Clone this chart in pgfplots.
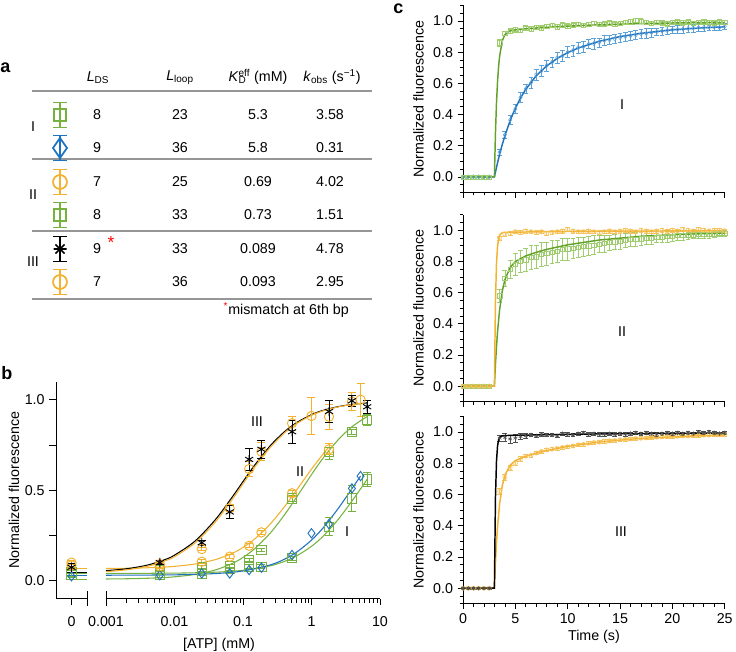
\documentclass[border=0pt]{standalone}
\usepackage{pgfplots}
\pgfplotsset{compat=1.18}
\usepackage{fontspec}
\setmainfont{Liberation Sans}

\definecolor{grn}{RGB}{118,178,64}
\definecolor{grnL}{RGB}{160,205,112}
\definecolor{grnD}{RGB}{98,162,42}
\definecolor{blu}{RGB}{30,114,190}
\definecolor{bluL}{RGB}{92,162,216}
\definecolor{org}{RGB}{242,178,48}
\definecolor{orgL}{RGB}{245,196,96}
\definecolor{gry}{RGB}{80,80,80}
\definecolor{rule}{RGB}{150,150,150}

\newcommand{\fs}{\fontsize{10.7}{12.5}\selectfont}

\pgfplotsset{
  igor/.style={scale only axis, clip=false, axis line style={-, line width=0.7pt},
    tick align=outside, major tick style={line width=0.6pt, black}, minor tick style={line width=0.5pt, black},
    tick label style={font=\fs}, label style={font=\fs},
    /pgf/number format/assume math mode=true},
  cax/.style={igor, axis lines*=left, width=196.3pt, height=140.4pt,
    xmin=0, xmax=25, ymin=-0.1, ymax=1.1,
    xtick={0,5,10,15,20,25}, minor xtick={0,1,...,25},
    ytick={0,0.2,0.4,0.6,0.8,1},
    minor ytick={-0.1,-0.05,0,0.05,0.1,0.15,0.2,0.25,0.3,0.35,0.4,0.45,0.5,0.55,0.6,0.65,0.7,0.75,0.8,0.85,0.9,0.95,1,1.05,1.1},
    major tick length=4pt, minor tick length=2.2pt,
    yticklabel style={/pgf/number format/fixed, /pgf/number format/fixed zerofill, /pgf/number format/precision=1},
    ylabel={Normalized fluorescence},
    ylabel style={at={(axis description cs:-0.17,0.5)}, anchor=center}},
  cdat/.style={only marks, mark size=1.6pt, mark options={solid, line width=0.4pt},
    error bars/y dir=both, error bars/y explicit,
    error bars/error bar style={line width=0.4pt},
    error bars/error mark options={rotate=90, mark size=1.8pt, line width=0.4pt}},
  cfit/.style={no marks, line width=1.1pt},
  bax/.style={igor, height=162.9pt, ymin=-0.1, ymax=1.1,
    major tick length=5pt, minor tick length=3pt,
    xticklabel style={yshift=-5pt}},
  bmk/.style={only marks, mark size=3.5pt, mark options={solid, line width=0.7pt}},
  bdat/.style={bmk,
    error bars/y dir=both, error bars/y explicit,
    error bars/error bar style={line width=0.7pt},
    error bars/error mark options={rotate=90, mark size=3pt, line width=0.7pt}},
  bfit/.style={no marks, line width=0.8pt, smooth},
}

\begin{document}
\begin{tikzpicture}
\path[use as bounding box] (0,0) rectangle (552pt,-489pt);

% ---------------- panel b, x = 0 part ----------------
\begin{axis}[bax, axis lines*=left, at={(42pt,-449.1pt)}, anchor=south west,
  width=23.25pt, xmin=-0.5, xmax=0.5,
  xtick={0}, xticklabels={0},
  extra x ticks={0.5}, extra x tick labels={},
  extra x tick style={tick align=center, major tick length=11pt},
  ytick={0,0.25,0.5,0.75,1}, yticklabels={0.0,,0.5,,1.0},
  ylabel={Normalized fluorescence},
  ylabel style={at={(axis description cs:-1.35,0.5)}, anchor=center}]
\addplot[bfit, org] table[row sep=\\]{x y\\ -0.15 0.066\\ 0.5 0.066\\};
\addplot[bfit, black] table[row sep=\\]{x y\\ -0.15 0.045\\ 0.5 0.045\\};
\addplot[bfit, org] table[row sep=\\]{x y\\ -0.15 0.04\\ 0.5 0.04\\};
\addplot[bfit, grn] table[row sep=\\]{x y\\ -0.15 0.04\\ 0.5 0.04\\};
\addplot[bfit, blu] table[row sep=\\]{x y\\ -0.15 0.03\\ 0.5 0.03\\};
\addplot[bfit, grn] table[row sep=\\]{x y\\ -0.15 0.008\\ 0.5 0.008\\};
\addplot[bdat, grn, mark=square] table[x=x,y=y,y error=e,row sep=\\]{x y e\\ 0 0.05 0.01\\};
\addplot[bdat, grn, mark=square] table[x=x,y=y,y error=e,row sep=\\]{x y e\\ 0 0.03 0.01\\};
\addplot[bmk, blu, mark=diamond] table[x=x,y=y,row sep=\\]{x y\\ 0 0.025\\};
\addplot[bdat, org, mark=o] table[x=x,y=y,y error=e,row sep=\\]{x y e\\ 0 0.085 0.01\\};
\addplot[bdat, org, mark=o] table[x=x,y=y,y error=e,row sep=\\]{x y e\\ 0 0.10 0.01\\};
\addplot[bdat, black, mark=asterisk] table[x=x,y=y,y error=e,row sep=\\]{x y e\\ 0 0.074 0.02\\};
\end{axis}

% ---------------- panel b, log part ----------------
\begin{axis}[bax, xmode=log, axis x line*=bottom, hide y axis,
  at={(79.5pt,-449.1pt)}, anchor=south west, width=205.5pt,
  xmin=0.001, xmax=10,
  xtick={0.001,0.01,0.1,1,10}, xticklabels={0.001,0.01,0.1,1,10},
  minor xtick={0.002,0.003,0.004,0.005,0.006,0.007,0.008,0.009,0.02,0.03,0.04,0.05,0.06,0.07,0.08,0.09,0.2,0.3,0.4,0.5,0.6,0.7,0.8,0.9,2,3,4,5,6,7,8,9},
  extra x ticks={0.001}, extra x tick labels={},
  extra x tick style={tick align=center, major tick length=11pt}]
% fits
\addplot[bfit, grn] table[row sep=\\]{x y\\ 0.001 0.0094\\ 0.002 0.0107\\ 0.004 0.0134\\ 0.007 0.0175\\ 0.01 0.0215\\ 0.02 0.0347\\ 0.04 0.0599\\ 0.07 0.0955\\ 0.1 0.1285\\ 0.15 0.1785\\ 0.25 0.2631\\ 0.4 0.3620\\ 0.6 0.4591\\ 1 0.5860\\ 1.5 0.6806\\ 2.5 0.7820\\ 4 0.8537\\ 6.5 0.9070\\};
\addplot[bfit, grn] table[row sep=\\]{x y\\ 0.001 0.0402\\ 0.01 0.0418\\ 0.04 0.0471\\ 0.1 0.0575\\ 0.25 0.0825\\ 0.4 0.1062\\ 0.6 0.1360\\ 1 0.1898\\ 1.5 0.2482\\ 2.5 0.3426\\ 4 0.4460\\ 6.5 0.5600\\};
\addplot[bfit, blu] table[row sep=\\]{x y\\ 0.001 0.0302\\ 0.01 0.0324\\ 0.04 0.0396\\ 0.1 0.0537\\ 0.25 0.0871\\ 0.4 0.1182\\ 0.6 0.1565\\ 1 0.2240\\ 1.5 0.2945\\ 2.5 0.4031\\ 4 0.5150\\ 5.2 0.5782\\};
\addplot[bfit, org] table[row sep=\\]{x y\\ 0.001 0.0673\\ 0.002 0.0687\\ 0.004 0.0714\\ 0.007 0.0753\\ 0.01 0.0793\\ 0.02 0.0922\\ 0.04 0.1170\\ 0.07 0.1517\\ 0.1 0.1837\\ 0.15 0.2321\\ 0.25 0.3134\\ 0.4 0.4073\\ 0.6 0.4986\\ 1 0.6163\\ 1.5 0.7030\\ 1.8 0.7383\\};
\addplot[bfit, black] table[row sep=\\]{x y\\ 0.001 0.0555\\ 0.002 0.0659\\ 0.004 0.0859\\ 0.007 0.1143\\ 0.01 0.1410\\ 0.02 0.2193\\ 0.04 0.3396\\ 0.07 0.4633\\ 0.1 0.5476\\ 0.15 0.6412\\ 0.25 0.7456\\ 0.4 0.8221\\ 0.6 0.8723\\ 1 0.9174\\ 1.5 0.9418\\ 2.5 0.9623\\ 4 0.9743\\ 6.5 0.9822\\};
\addplot[bfit, org] table[row sep=\\]{x y\\ 0.001 0.0502\\ 0.002 0.0601\\ 0.004 0.0794\\ 0.007 0.1069\\ 0.01 0.1327\\ 0.02 0.2090\\ 0.04 0.3272\\ 0.07 0.4501\\ 0.1 0.5348\\ 0.15 0.6295\\ 0.25 0.7361\\ 0.4 0.8149\\ 0.6 0.8668\\ 1 0.9137\\ 1.5 0.9392\\ 2.5 0.9607\\ 4 0.9733\\ 5.2 0.9782\\};
% data
\addplot[bdat, grn, mark=square] table[x=x,y=y,y error=e,row sep=\\]{x y e\\ 0.0061 0.06 0.01\\ 0.025 0.074 0.01\\ 0.064 0.08 0.01\\ 0.123 0.114 0.01\\ 0.186 0.17 0.01\\ 0.52 0.455 0.015\\ 1.8 0.713 0.045\\ 3.89 0.823 0.015\\ 6.5 0.888 0.03\\};
\addplot[bdat, grn, mark=square] table[x=x,y=y,y error=e,row sep=\\]{x y e\\ 0.0061 0.03 0.01\\ 0.025 0.04 0.01\\ 0.064 0.065 0.01\\ 0.123 0.077 0.01\\ 0.186 0.077 0.01\\ 0.52 0.124 0.01\\ 1.8 0.298 0.05\\ 3.89 0.455 0.07\\ 6.5 0.56 0.04\\};
\addplot[bmk, blu, mark=diamond] table[x=x,y=y,row sep=\\]{x y\\ 0.0061 0.03\\ 0.025 0.04\\ 0.064 0.04\\ 0.123 0.059\\ 0.186 0.072\\ 0.52 0.142\\ 1.0 0.262\\ 1.8 0.313\\ 3.89 0.51\\ 5.2 0.578\\};
\addplot[bdat, org, mark=o] table[x=x,y=y,y error=e,row sep=\\]{x y e\\ 0.0061 0.08 0.01\\ 0.025 0.105 0.01\\ 0.064 0.133 0.01\\ 0.123 0.193 0.01\\ 0.186 0.267 0.01\\ 0.52 0.483 0.015\\ 1.8 0.726 0.03\\};
\addplot[bdat, org, mark=o] table[x=x,y=y,y error=e,row sep=\\]{x y e\\ 0.0061 0.092 0.01\\ 0.025 0.175 0.01\\ 0.064 0.40 0.02\\ 0.123 0.617 0.04\\ 0.186 0.713 0.05\\ 0.52 0.87 0.04\\ 1.0 0.91 0.10\\ 1.8 0.906 0.07\\ 3.89 0.989 0.05\\ 5.2 1.0 0.09\\};
\addplot[bdat, black, mark=asterisk] table[x=x,y=y,y error=e,row sep=\\]{x y e\\ 0.0061 0.10 0.01\\ 0.025 0.21 0.015\\ 0.064 0.38 0.035\\ 0.123 0.67 0.06\\ 0.186 0.726 0.05\\ 0.52 0.823 0.065\\ 1.8 0.935 0.06\\ 3.89 0.994 0.03\\ 6.5 0.961 0.035\\};
\end{axis}

% ---------------- panel c, I ----------------
\begin{axis}[cax, at={(347.25pt,-144.4pt)}, anchor=south west, xticklabels={}]
\addplot[cdat, bluL, mark=diamond] table[x=t,y=y,y error=e,row sep=\\]{t y e\\
0 0 0.005\\ 0.5 0 0.005\\ 1 0 0.005\\ 1.5 0 0.005\\ 2 0 0.005\\ 2.5 0 0.005\\
3.5 0.16 0.02\\ 4 0.27 0.025\\ 4.5 0.365 0.03\\ 5 0.435 0.03\\ 5.5 0.51 0.03\\ 6 0.565 0.03\\ 6.5 0.605 0.035\\ 7 0.655 0.035\\
7.5 0.68 0.035\\ 8 0.715 0.035\\ 8.5 0.735 0.035\\ 9 0.765 0.035\\ 9.5 0.775 0.035\\ 10 0.80 0.035\\ 10.5 0.81 0.035\\ 11 0.83 0.035\\
11.5 0.835 0.035\\ 12 0.852 0.03\\ 12.5 0.855 0.035\\ 13 0.862 0.03\\ 13.5 0.875 0.03\\ 14 0.878 0.03\\ 14.5 0.885 0.03\\ 15 0.893 0.03\\
15.5 0.90 0.03\\ 16 0.905 0.03\\ 16.5 0.91 0.03\\ 17 0.917 0.03\\ 17.5 0.92 0.03\\ 18 0.925 0.03\\ 18.5 0.93 0.025\\ 19 0.935 0.025\\
19.5 0.938 0.025\\ 20 0.943 0.025\\ 20.5 0.946 0.025\\ 21 0.948 0.025\\ 21.5 0.952 0.025\\ 22 0.955 0.025\\ 22.5 0.957 0.025\\ 23 0.958 0.025\\
23.5 0.96 0.02\\ 24 0.962 0.02\\ 24.5 0.958 0.02\\ 25 0.965 0.02\\};
\addplot[cdat, grnL, mark=square] table[x=t,y=y,y error=e,row sep=\\]{t y e\\
0 0 0.005\\ 0.5 0 0.005\\ 1 0 0.005\\ 1.5 0 0.005\\ 2 0 0.005\\ 2.5 0 0.005\\
3.5 0.86 0.02\\ 4 0.92 0.015\\ 4.5 0.935 0.015\\ 5 0.945 0.015\\ 5.5 0.94 0.015\\ 6 0.955 0.015\\ 6.5 0.95 0.015\\ 7 0.96 0.012\\
7.5 0.955 0.015\\ 8 0.965 0.015\\ 8.5 0.97 0.012\\ 9 0.962 0.015\\ 9.5 0.975 0.012\\ 10 0.968 0.015\\ 10.5 0.975 0.012\\ 11 0.98 0.012\\
11.5 0.972 0.015\\ 12 0.978 0.012\\ 12.5 0.985 0.012\\ 13 0.978 0.015\\ 13.5 0.982 0.012\\ 14 0.988 0.012\\ 14.5 0.98 0.015\\ 15 0.985 0.012\\
15.5 0.99 0.012\\ 16 0.995 0.015\\ 16.5 1.005 0.015\\ 17 1.0 0.015\\ 17.5 0.99 0.012\\ 18 0.985 0.012\\ 18.5 0.992 0.012\\ 19 0.988 0.012\\
19.5 0.983 0.015\\ 20 0.99 0.012\\ 20.5 0.995 0.012\\ 21 0.99 0.015\\ 21.5 0.995 0.012\\ 22 0.985 0.012\\ 22.5 0.99 0.012\\ 23 0.995 0.012\\
23.5 0.99 0.015\\ 24 0.988 0.012\\ 24.5 0.995 0.012\\ 25 0.99 0.012\\};
\addplot[cfit, blu] table[row sep=\\]{t y\\ 0 0\\ 3 0\\ 3.25 0.0765\\ 3.5 0.146\\ 3.75 0.2075\\ 4 0.2636\\ 4.5 0.361\\ 5 0.4405\\ 5.5 0.5068\\ 6 0.5623\\ 7 0.6489\\ 8 0.7122\\ 9 0.7599\\ 10 0.797\\ 11 0.8262\\ 13 0.8695\\ 15 0.900\\ 17 0.9207\\ 20 0.943\\ 23 0.9561\\ 25 0.962\\};
\addplot[cfit, grnD] table[row sep=\\]{t y\\ 0 0\\ 3 0\\ 3.1 0.281\\ 3.2 0.475\\ 3.3 0.612\\ 3.4 0.708\\ 3.5 0.775\\ 3.75 0.873\\ 4 0.911\\ 4.5 0.937\\ 5 0.943\\ 6 0.950\\ 8 0.959\\ 10 0.967\\ 13 0.975\\ 17 0.983\\ 21 0.988\\ 25 0.990\\};
\end{axis}

% ---------------- panel c, II ----------------
\begin{axis}[cax, at={(347.25pt,-301.3pt)}, anchor=south west, xticklabels={}]
\addplot[cdat, grnL, mark=square] table[x=t,y=y,y error=e,row sep=\\]{t y e\\
0 0 0.005\\ 0.5 0 0.005\\ 1 0 0.005\\ 1.5 0 0.005\\ 2 0 0.005\\ 2.5 0 0.005\\
3.5 0.58 0.04\\ 4 0.69 0.05\\ 4.5 0.75 0.06\\ 5 0.78 0.07\\ 5.5 0.80 0.07\\ 6 0.81 0.075\\ 6.5 0.825 0.075\\ 7 0.83 0.075\\
7.5 0.845 0.075\\ 8 0.85 0.075\\ 8.5 0.86 0.075\\ 9 0.865 0.07\\ 9.5 0.875 0.07\\ 10 0.88 0.07\\ 10.5 0.885 0.065\\ 11 0.89 0.065\\
11.5 0.895 0.06\\ 12 0.90 0.06\\ 12.5 0.905 0.06\\ 13 0.91 0.055\\ 13.5 0.915 0.055\\ 14 0.92 0.05\\ 14.5 0.925 0.05\\ 15 0.93 0.05\\
15.5 0.935 0.045\\ 16 0.94 0.045\\ 16.5 0.94 0.045\\ 17 0.945 0.04\\ 17.5 0.95 0.04\\ 18 0.95 0.04\\ 18.5 0.955 0.035\\ 19 0.955 0.035\\
19.5 0.96 0.035\\ 20 0.96 0.03\\ 20.5 0.965 0.03\\ 21 0.965 0.03\\ 21.5 0.97 0.03\\ 22 0.97 0.025\\ 22.5 0.972 0.025\\ 23 0.975 0.025\\
23.5 0.975 0.025\\ 24 0.977 0.025\\ 24.5 0.978 0.02\\ 25 0.98 0.02\\};
\addplot[cdat, orgL, mark=o] table[x=t,y=y,y error=e,row sep=\\]{t y e\\
0 0 0.005\\ 0.5 0 0.005\\ 1 0 0.005\\ 1.5 0 0.005\\ 2 0 0.005\\ 2.5 0 0.005\\
3.5 0.95 0.012\\ 4 0.975 0.012\\ 4.5 0.98 0.012\\ 5 0.99 0.012\\ 5.5 0.985 0.012\\ 6 0.995 0.012\\ 6.5 0.99 0.012\\ 7 0.985 0.012\\
7.5 0.99 0.012\\ 8 0.98 0.012\\ 8.5 0.985 0.012\\ 9 0.99 0.012\\ 9.5 0.995 0.012\\ 10 1.005 0.012\\ 10.5 0.995 0.012\\ 11 0.99 0.012\\
11.5 0.99 0.012\\ 12 0.995 0.012\\ 12.5 0.99 0.012\\ 13 0.985 0.012\\ 13.5 0.99 0.012\\ 14 0.995 0.012\\ 14.5 0.99 0.012\\ 15 0.995 0.012\\
15.5 1.0 0.012\\ 16 0.995 0.012\\ 16.5 0.99 0.012\\ 17 1.0 0.012\\ 17.5 0.995 0.012\\ 18 0.99 0.012\\ 18.5 0.995 0.012\\ 19 1.0 0.012\\
19.5 0.995 0.012\\ 20 1.0 0.012\\ 20.5 0.995 0.012\\ 21 1.005 0.012\\ 21.5 1.0 0.012\\ 22 0.995 0.012\\ 22.5 1.005 0.012\\ 23 1.0 0.012\\
23.5 0.995 0.012\\ 24 1.0 0.012\\ 24.5 1.0 0.012\\ 25 0.995 0.012\\};
\addplot[cfit, grnD] table[row sep=\\]{t y\\ 0 0\\ 3 0\\ 3.1 0.1396\\ 3.2 0.2544\\ 3.3 0.349\\ 3.5 0.4915\\ 3.75 0.6082\\ 4 0.6819\\ 4.5 0.7611\\ 5 0.7985\\ 6 0.8351\\ 7 0.858\\ 8 0.8766\\ 10 0.906\\ 13 0.9365\\ 17 0.9606\\ 21 0.9739\\ 25 0.9811\\};
\addplot[cfit, org] table[row sep=\\]{t y\\ 0 0\\ 3 0\\ 3.1 0.542\\ 3.2 0.786\\ 3.3 0.896\\ 3.4 0.945\\ 3.5 0.968\\ 3.75 0.984\\ 4 0.986\\ 5 0.987\\ 8 0.990\\ 13 0.993\\ 25 0.996\\};
\end{axis}

% ---------------- panel c, III ----------------
\begin{axis}[cax, at={(347.25pt,-452.85pt)}, anchor=south west, height=140.6pt]
\addplot[cdat, orgL, mark=o] table[x=t,y=y,y error=e,row sep=\\]{t y e\\
0 0 0.005\\ 0.5 0 0.005\\ 1 0 0.005\\ 1.5 0 0.005\\ 2 0 0.005\\ 2.5 0 0.005\\
3.5 0.62 0.02\\ 4 0.71 0.02\\ 4.5 0.77 0.015\\ 5 0.80 0.015\\ 5.5 0.83 0.015\\ 6 0.845 0.01\\ 6.5 0.85 0.01\\ 7 0.865 0.01\\
7.5 0.875 0.01\\ 8 0.885 0.01\\ 8.5 0.89 0.01\\ 9 0.895 0.01\\ 9.5 0.90 0.01\\ 10 0.905 0.01\\ 10.5 0.91 0.01\\ 11 0.918 0.01\\
11.5 0.92 0.01\\ 12 0.928 0.01\\ 12.5 0.932 0.01\\ 13 0.935 0.01\\ 13.5 0.94 0.01\\ 14 0.943 0.01\\ 14.5 0.945 0.01\\ 15 0.95 0.01\\
15.5 0.952 0.01\\ 16 0.955 0.01\\ 16.5 0.958 0.01\\ 17 0.96 0.01\\ 17.5 0.962 0.01\\ 18 0.965 0.01\\ 18.5 0.967 0.01\\ 19 0.968 0.01\\
19.5 0.97 0.01\\ 20 0.972 0.01\\ 20.5 0.973 0.01\\ 21 0.975 0.01\\ 21.5 0.976 0.01\\ 22 0.977 0.01\\ 22.5 0.978 0.01\\ 23 0.98 0.01\\
23.5 0.98 0.01\\ 24 0.982 0.01\\ 24.5 0.983 0.01\\ 25 0.985 0.01\\};
\addplot[cdat, gry, mark=asterisk] table[x=t,y=y,y error=e,row sep=\\]{t y e\\
0 0 0.005\\ 0.5 0 0.005\\ 1 0 0.005\\ 1.5 0 0.005\\ 2 0 0.005\\ 2.5 0 0.005\\
3.5 0.96 0.02\\ 4 0.965 0.025\\ 4.5 0.955 0.025\\ 5 0.96 0.025\\ 5.5 0.97 0.02\\ 6 0.975 0.015\\ 6.5 0.98 0.01\\ 7 0.975 0.01\\
7.5 0.985 0.01\\ 8 0.98 0.01\\ 8.5 0.98 0.01\\ 9 0.975 0.01\\ 9.5 0.99 0.01\\ 10 0.985 0.01\\ 10.5 0.98 0.01\\ 11 0.99 0.01\\
11.5 0.995 0.01\\ 12 0.985 0.01\\ 12.5 0.99 0.01\\ 13 0.985 0.01\\ 13.5 0.985 0.01\\ 14 0.99 0.01\\ 14.5 0.985 0.01\\ 15 0.99 0.01\\
15.5 0.985 0.01\\ 16 0.99 0.01\\ 16.5 0.995 0.01\\ 17 0.99 0.01\\ 17.5 0.995 0.01\\ 18 0.99 0.01\\ 18.5 0.985 0.01\\ 19 0.99 0.01\\
19.5 0.995 0.01\\ 20 0.99 0.01\\ 20.5 0.995 0.01\\ 21 0.99 0.01\\ 21.5 0.995 0.01\\ 22 0.99 0.01\\ 22.5 1.0 0.01\\ 23 0.995 0.01\\
23.5 1.0 0.01\\ 24 0.995 0.01\\ 24.5 0.99 0.01\\ 25 0.995 0.01\\};
\addplot[cfit, org] table[row sep=\\]{t y\\ 0 0\\ 3 0\\ 3.1 0.161\\ 3.2 0.290\\ 3.3 0.393\\ 3.5 0.541\\ 3.75 0.655\\ 4 0.7215\\ 4.5 0.787\\ 5 0.816\\ 6 0.845\\ 7 0.864\\ 8 0.881\\ 10 0.907\\ 13 0.936\\ 17 0.959\\ 21 0.972\\ 25 0.980\\};
\addplot[cfit, black] table[row sep=\\]{t y\\ 0 0\\ 3 0\\ 3.1 0.5786\\ 3.2 0.814\\ 3.3 0.910\\ 3.4 0.949\\ 3.5 0.965\\ 3.75 0.975\\ 4 0.977\\ 6 0.980\\ 11 0.986\\ 18 0.9905\\ 25 0.993\\};
\end{axis}

% ---------------- table (panel a) and labels, pixel coordinates ----------------
\begin{scope}[x=0.75pt, y=-0.75pt, font=\fs]
\node[font=\bfseries\fontsize{13.5}{15}\selectfont, anchor=west, inner sep=0] at (0,68) {a};
\node[font=\bfseries\fontsize{13.5}{15}\selectfont, anchor=west, inner sep=0] at (1,373) {b};
\node[font=\bfseries\fontsize{13.5}{15}\selectfont, anchor=west, inner sep=0] at (393,9) {c};

\node at (98,78) {\textit{L}\textsubscript{DS}};
\node at (180,78) {\textit{L}\textsubscript{loop}};
\node at (258,77) {\textit{K}\rlap{\textsubscript{D}}\textsuperscript{eff} (mM)};
\node at (332,77) {\textit{k}\textsubscript{obs} (s\textsuperscript{−1})};

\foreach \yy in {91,159,231,299} \draw[rule, line width=0.8pt] (32,\yy) -- (372,\yy);

\node at (33,127) {I};
\node at (33,195) {II};
\node at (33,262) {III};

\foreach \r/\a/\b/\c/\d in {115/8/23/5.3/3.58, 148/9/36/5.8/0.31, 182/7/25/0.69/4.02, 215/8/33/0.73/1.51, 249/9/33/0.089/4.78, 282/7/36/0.093/2.95}{
  \node at (97,\r) {\a};
  \node at (180,\r) {\b};
  \node at (258,\r) {\c};
  \node at (330,\r) {\d};
}
\node[red, font=\fontsize{13}{14}\selectfont] at (111,243) {*};
\node[anchor=west] at (219,310) {\textcolor{red}{\textsuperscript{*}}mismatch at 6th bp};

% symbols
\begin{scope}[line width=1.3pt]
\foreach \r in {115,215}{
  \draw[grn] (60,\r-12.5) -- (60,\r+12.5) (53,\r-12.5) -- (67,\r-12.5) (53,\r+12.5) -- (67,\r+12.5);
  \draw[grn] (54,\r-6) rectangle (66,\r+6);
}
\draw[blu] (60,135.5) -- (60,160.5) (53,135.5) -- (67,135.5) (53,160.5) -- (67,160.5);
\draw[blu] (60,138) -- (67,148) -- (60,158) -- (53,148) -- cycle;
\foreach \r in {182,282}{
  \draw[org] (60,\r-12.5) -- (60,\r+12.5) (53,\r-12.5) -- (67,\r-12.5) (53,\r+12.5) -- (67,\r+12.5);
  \draw[org] (60,\r) circle[radius=7];
}
\draw[black] (60,236.5) -- (60,261.5) (53,236.5) -- (67,236.5) (53,261.5) -- (67,261.5);
\draw[black] (53.5,249) -- (66.5,249) (55.4,244.4) -- (64.6,253.6) (55.4,253.6) -- (64.6,244.4);
\end{scope}

\node at (257,422) {III};
\node at (300,472) {II};
\node at (347,532) {I};
\node at (219,645) {[ATP] (mM)};

\node at (622,105) {I};
\node at (622,332) {II};
\node at (621,532) {III};
\node at (594,637) {Time (s)};
\end{scope}
\end{tikzpicture}
\end{document}
